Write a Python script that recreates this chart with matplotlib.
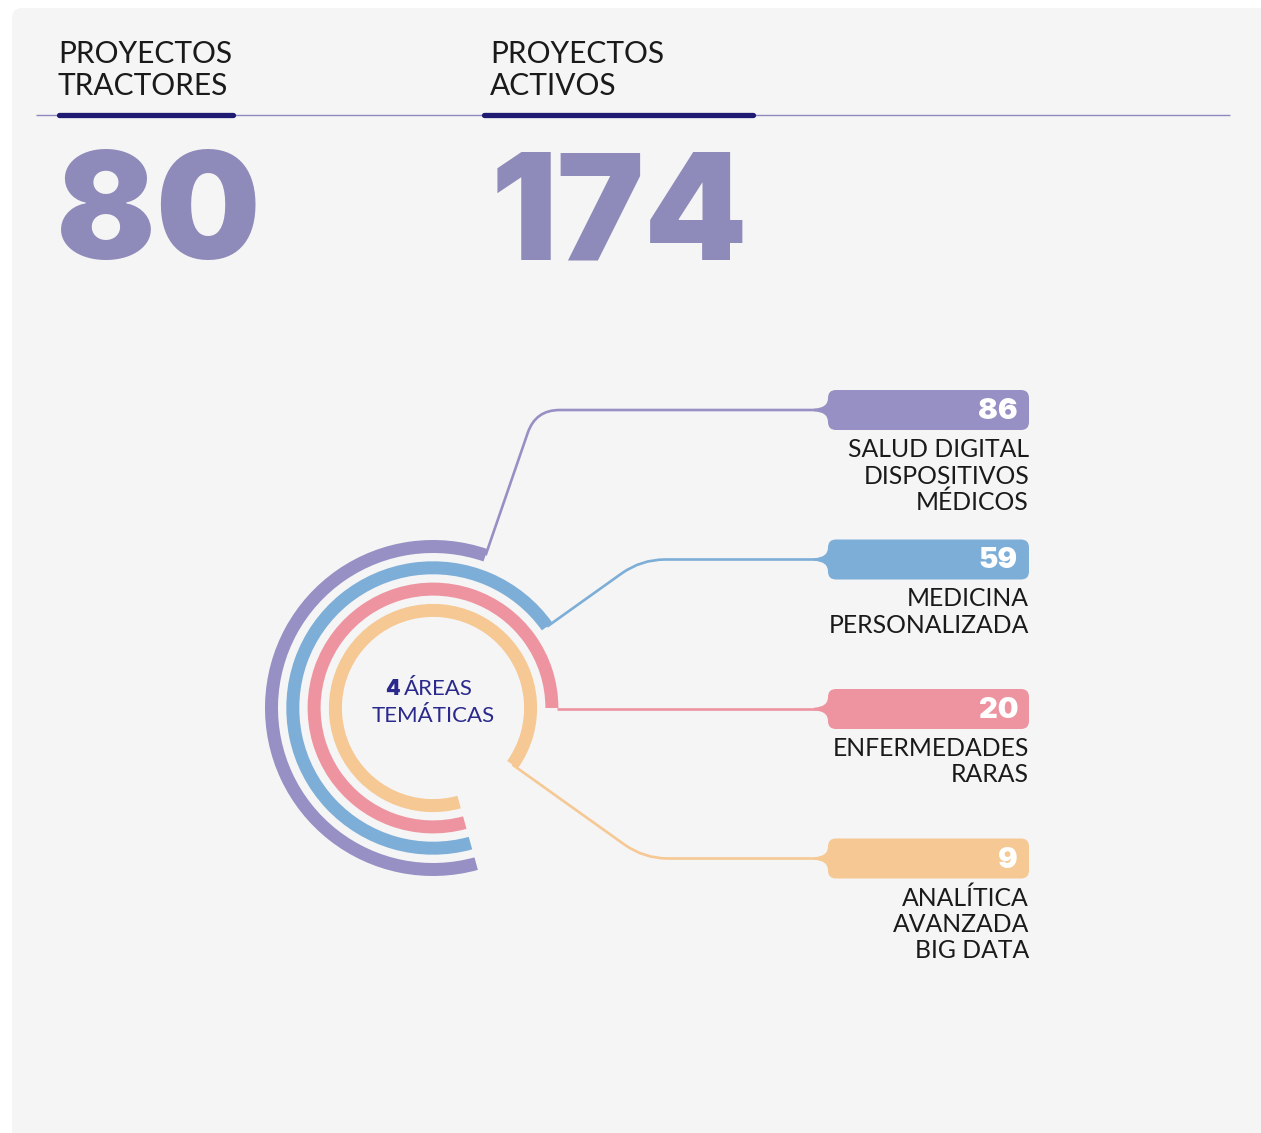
import matplotlib
matplotlib.use('Agg')
import matplotlib.pyplot as plt
import numpy as np
from matplotlib.patches import Wedge, PathPatch, FancyBboxPatch
from matplotlib.path import Path

# data
header_labels = [['PROYECTOS', 'TRACTORES'], ['PROYECTOS', 'ACTIVOS']]
header_values = [80, 174]
area_values = [86, 59, 20, 9]
area_labels = [['SALUD DIGITAL', 'DISPOSITIVOS', 'MÉDICOS'],
               ['MEDICINA', 'PERSONALIZADA'],
               ['ENFERMEDADES', 'RARAS'],
               ['ANALÍTICA', 'AVANZADA', 'BIG DATA']]
center_count = 4
center_label = 'ÁREAS'
center_label2 = 'TEMÁTICAS'

area_colors = ['#9690c4', '#7daed8', '#ee94a0', '#f6c894']
BG = '#f5f5f5'
NUM_COLOR = '#8e8ab9'
NAVY = '#1f1a72'
TXT = '#1a1a1a'
FONT = 'Lato'

W, H = 1261, 1133
fig = plt.figure(figsize=(W / 100, H / 100), dpi=100)
fig.patch.set_facecolor('white')
ax = fig.add_axes([0, 0, 1, 1])
ax.set_xlim(0, W)
ax.set_ylim(H, 0)
ax.set_aspect('equal')
ax.axis('off')

# panel
ax.add_patch(FancyBboxPatch((12, 8), W + 40, H + 40,
                            boxstyle='round,pad=0,rounding_size=10',
                            fc=BG, ec='none'))

# header
ax.plot([36, 1230], [115, 115], color='#8c88c0', lw=1.0, solid_capstyle='butt')
head_x = [58, 490]
num_x = [56, 491]
bar_x = [(59, 233), (484, 753)]
for i, (lines, val) in enumerate(zip(header_labels, header_values)):
    for k, line in enumerate(lines):
        ax.text(head_x[i], 63 + 32 * k, line, ha='left', va='baseline',
                fontsize=21.5, family=FONT, color=TXT)
    ax.plot(bar_x[i], [115, 115], color=NAVY, lw=3.8, solid_capstyle='round')
    ax.text(num_x[i], 259, str(val), ha='left', va='baseline',
            fontsize=106, family=['Inter', 'Roboto'], fontweight='black',
            color=NUM_COLOR)

# rings
cx, cy = 433, 708
start_vis = 285.5
r_out0, step, width = 168, 21.3, 13
pill_L, pill_R = 828, 1029
pill_y0, pill_dy = 410, 149.5


def vis2data(a):
    return -a


for i, (val, lines, col) in enumerate(zip(area_values, area_labels, area_colors)):
    end_vis = 71 - 35.5 * i
    r_out = r_out0 - step * i
    ax.add_patch(Wedge((cx, cy), r_out, vis2data(start_vis) % 360,
                       vis2data(end_vis) % 360, width=width, fc=col, ec='none'))

    # connector: radial line from arc end to pill level, then horizontal
    py = pill_y0 + pill_dy * i
    th = np.deg2rad(end_vis)
    if abs(np.sin(th)) < 0.05:
        verts = [(cx + r_out - 1, py), (pill_L, py)]
        codes = [Path.MOVETO, Path.LINETO]
    else:
        rm = r_out - width / 2
        sx, sy = cx + rm * np.cos(th), cy - rm * np.sin(th)
        t = (cy - py) / np.sin(th)
        kx, ky = cx + t * np.cos(th), py
        rr = 24
        d = np.hypot(kx - sx, ky - sy)
        ux, uy = (kx - sx) / d, (ky - sy) / d
        verts = [(sx, sy), (kx - rr * ux, ky - rr * uy), (kx, ky),
                 (kx + rr, ky), (pill_L, py)]
        codes = [Path.MOVETO, Path.LINETO, Path.CURVE3, Path.CURVE3, Path.LINETO]
    ax.add_patch(PathPatch(Path(verts, codes), fc='none', ec=col, lw=1.9,
                           capstyle='butt'))

    # pill with flared left edge
    T, B, r, L, R = py - 20, py + 20, 8, pill_L, pill_R
    pv = [(L + r, T), (R - r, T), (R, T), (R, T + r), (R, B - r), (R, B),
          (R - r, B), (L + r, B), (L, B), (L, B - r), (L, py + 2),
          (L - 14, py + 1.3), (L - 14, py - 1.3), (L, py - 2), (L, T + r),
          (L, T), (L + r, T), (L + r, T)]
    pc = [Path.MOVETO, Path.LINETO, Path.CURVE3, Path.CURVE3, Path.LINETO,
          Path.CURVE3, Path.CURVE3, Path.LINETO, Path.CURVE3, Path.CURVE3,
          Path.CURVE3, Path.CURVE3, Path.LINETO, Path.CURVE3, Path.CURVE3,
          Path.CURVE3, Path.CURVE3, Path.CLOSEPOLY]
    ax.add_patch(PathPatch(Path(pv, pc), fc=col, ec='none'))
    ax.text(R - 11, py + 9, str(val), ha='right', va='baseline', fontsize=21,
            family=['Inter', 'Lato'], fontweight='black', color='white')
    for k, line in enumerate(lines):
        ax.text(R, py + 47 + 26.5 * k, line, ha='right', va='baseline',
                fontsize=17.8, family=FONT, color=TXT)

# centre text
CT = '#2b2a8c'
ax.text(cx - 33, 695, str(center_count), ha='right', va='baseline', fontsize=15,
        family=['Inter', 'Lato'], fontweight='black', color=CT)
ax.text(cx - 29, 695, center_label, ha='left', va='baseline', fontsize=16,
        family=FONT, color=CT)
ax.text(cx, 722, center_label2, ha='center', va='baseline', fontsize=16,
        family=FONT, color=CT)

fig.savefig('out.png', dpi=100, facecolor='white')
